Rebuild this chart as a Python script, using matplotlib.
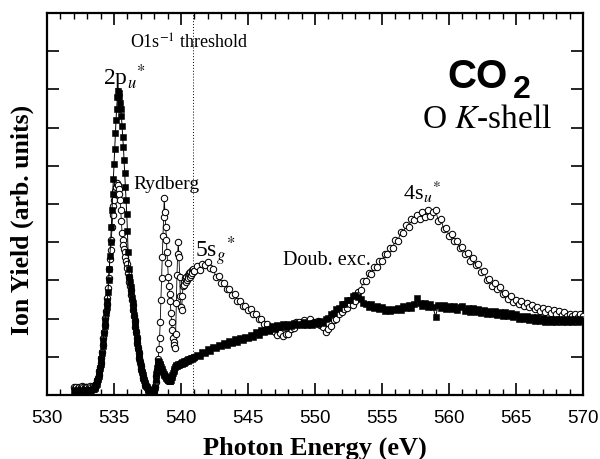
import numpy as np
import matplotlib
matplotlib.use("Agg")
import matplotlib.pyplot as plt
from matplotlib.ticker import MultipleLocator, NullFormatter

plt.rcParams["mathtext.fontset"] = "stix"
plt.rcParams["font.family"] = ["Liberation Serif", "DejaVu Serif"]

# Photon energy grid (eV): coarse baseline, fine steps across the resonances, coarser above threshold
energy = np.round(np.concatenate([
    np.arange(532.0, 533.45, 0.1),
    np.arange(533.5, 540.96, 0.05),
    np.arange(541.0, 570.01, 0.2),
]), 2)

# Ion yield, filled squares
yield_squares = [
    # 532.0 - 533.4
    0.10, 0.08, 0.12, 0.09, 0.11, 0.10, 0.13, 0.11, 0.12, 0.10, 0.13, 0.12, 0.14, 0.13, 0.15,
    # 533.5 - 540.95
    0.16, 0.18, 0.21, 0.25, 0.30, 0.36, 0.43, 0.51, 0.60, 0.70,
    0.82, 0.95, 1.10, 1.27, 1.45, 1.62, 1.80, 1.97, 2.15, 2.30,
    2.45, 2.70, 3.00, 3.30, 3.65, 4.00, 4.40, 4.85, 5.25, 5.65,
    6.05, 6.45, 6.85, 7.20, 7.50, 7.80, 7.95, 7.90, 7.80, 7.65,
    7.50, 7.30, 7.05, 6.75, 6.50, 6.15, 5.80, 5.45, 5.10, 4.75,
    4.30, 3.75, 3.30, 3.10, 2.95, 2.82, 2.70, 2.55, 2.40, 2.25,
    2.10, 1.95, 1.80, 1.65, 1.50, 1.37, 1.22, 1.10, 0.98, 0.87,
    0.77, 0.68, 0.60, 0.52, 0.45, 0.38, 0.32, 0.27, 0.23, 0.20,
    0.16, 0.13, 0.11, 0.09, 0.08, 0.07, 0.06, 0.05, 0.05, 0.06,
    0.10, 0.20, 0.38, 0.55, 0.70, 0.82, 0.88, 0.86, 0.80, 0.78,
    0.72, 0.68, 0.62, 0.60, 0.55, 0.52, 0.50, 0.46, 0.44, 0.42,
    0.40, 0.38, 0.37, 0.36, 0.36, 0.40, 0.46, 0.52, 0.58, 0.63,
    0.68, 0.72, 0.76, 0.78, 0.76, 0.79, 0.80, 0.78, 0.82, 0.80,
    0.84, 0.82, 0.86, 0.84, 0.85, 0.88, 0.86, 0.90, 0.88, 0.91,
    0.90, 0.93, 0.92, 0.95, 0.94, 0.96, 0.95, 0.98, 0.97, 1.00,
    # 541.0 - 570.0
    1.00, 1.06, 1.03, 1.13, 1.10, 1.20, 1.16, 1.26, 1.22, 1.32,
    1.28, 1.36, 1.31, 1.42, 1.36, 1.46, 1.40, 1.50, 1.45, 1.53,
    1.50, 1.58, 1.52, 1.64, 1.58, 1.70, 1.64, 1.72, 1.68, 1.80,
    1.74, 1.83, 1.77, 1.86, 1.79, 1.87, 1.80, 1.88, 1.82, 1.87,
    1.82, 1.90, 1.83, 1.89, 1.84, 1.92, 1.85, 1.93, 1.88, 1.98,
    2.01, 2.12, 2.14, 2.25, 2.27, 2.38, 2.38, 2.50, 2.49, 2.60,
    2.63, 2.56, 2.51, 2.40, 2.39, 2.31, 2.38, 2.28, 2.34, 2.24,
    2.31, 2.21, 2.26, 2.19, 2.25, 2.22, 2.29, 2.23, 2.32, 2.27,
    2.35, 2.29, 2.38, 2.53, 2.40, 2.32, 2.41, 2.31, 2.39, 2.30,
    2.05, 2.36, 2.28, 2.35, 2.25, 2.33, 2.24, 2.32, 2.22, 2.30,
    2.34, 2.21, 2.28, 2.18, 2.27, 2.16, 2.24, 2.14, 2.22, 2.13,
    2.20, 2.11, 2.21, 2.10, 2.17, 2.08, 2.18, 2.07, 2.14, 2.04,
    2.11, 2.00, 2.08, 1.98, 2.06, 1.97, 2.05, 1.95, 2.03, 1.94,
    2.01, 1.92, 2.00, 1.91, 1.99, 1.92, 2.00, 1.91, 1.99, 1.90,
    1.98, 1.91, 1.99, 1.90, 1.98, 1.94,
]

# Ion yield, open circles
yield_circles = [
    # 532.0 - 533.4
    0.20, 0.18, 0.22, 0.19, 0.21, 0.20, 0.23, 0.21, 0.22, 0.20, 0.22, 0.21, 0.23, 0.22, 0.24,
    # 533.5 - 540.95
    0.22, 0.24, 0.26, 0.29, 0.33, 0.38, 0.45, 0.53, 0.62, 0.72,
    0.84, 0.98, 1.12, 1.30, 1.48, 1.66, 1.84, 2.02, 2.20, 2.38,
    2.55, 2.80, 3.05, 3.30, 3.55, 3.80, 4.05, 4.40, 4.70, 4.95,
    5.10, 5.25, 5.35, 5.45, 5.52, 5.55, 5.50, 5.40, 5.25, 5.10,
    4.85, 4.55, 4.25, 4.05, 3.92, 3.82, 3.74, 3.62, 3.52, 3.42,
    3.32, 3.20, 3.08, 2.95, 2.85, 2.74, 2.62, 2.50, 2.36, 2.22,
    2.08, 1.93, 1.79, 1.64, 1.50, 1.36, 1.22, 1.09, 0.97, 0.86,
    0.76, 0.67, 0.59, 0.51, 0.44, 0.38, 0.32, 0.27, 0.23, 0.20,
    0.17, 0.14, 0.12, 0.10, 0.09, 0.08, 0.07, 0.07, 0.08, 0.10,
    0.12, 0.20, 0.35, 0.50, 0.65, 0.78, 0.95, 1.20, 1.50, 1.90,
    2.50, 3.05, 3.60, 4.15, 4.65, 5.15, 4.80, 4.40, 4.05, 3.75,
    3.45, 3.10, 2.85, 2.65, 2.45, 2.15, 1.90, 1.70, 1.50, 1.38,
    1.30, 1.22, 1.60, 2.40, 3.15, 3.70, 4.00, 3.60, 3.10, 2.60,
    2.30, 2.22, 2.60, 2.85, 2.95, 2.88, 3.05, 2.95, 3.10, 3.00,
    3.15, 3.05, 3.20, 3.10, 3.22, 3.15, 3.28, 3.20, 3.30, 3.24,
    # 541.0 - 570.0
    3.24, 3.38, 3.28, 3.44, 3.40, 3.47, 3.33, 3.30, 3.10, 3.12,
    2.94, 2.92, 2.78, 2.78, 2.62, 2.64, 2.46, 2.47, 2.32, 2.34,
    2.22, 2.24, 2.12, 2.13, 1.99, 2.00, 1.87, 1.86, 1.72, 1.69,
    1.64, 1.56, 1.62, 1.55, 1.60, 1.60, 1.72, 1.76, 1.90, 1.90,
    1.86, 1.96, 1.88, 1.98, 1.89, 1.90, 1.94, 1.82, 1.78, 1.65,
    1.72, 1.80, 1.96, 2.00, 2.12, 2.16, 2.26, 2.28, 2.38, 2.36,
    2.46, 2.70, 2.74, 2.98, 2.98, 3.20, 3.18, 3.36, 3.34, 3.52,
    3.52, 3.70, 3.68, 3.86, 3.86, 4.06, 4.04, 4.28, 4.24, 4.46,
    4.40, 4.62, 4.58, 4.72, 4.62, 4.80, 4.66, 4.84, 4.68, 4.78,
    4.84, 4.56, 4.62, 4.34, 4.38, 4.16, 4.22, 4.04, 4.04, 3.84,
    3.88, 3.70, 3.72, 3.52, 3.58, 3.40, 3.42, 3.22, 3.24, 3.00,
    3.04, 2.86, 2.94, 2.78, 2.84, 2.64, 2.68, 2.52, 2.58, 2.44,
    2.50, 2.38, 2.45, 2.34, 2.40, 2.30, 2.35, 2.25, 2.31, 2.21,
    2.28, 2.18, 2.25, 2.15, 2.22, 2.12, 2.19, 2.10, 2.16, 2.07,
    2.13, 2.06, 2.13, 2.05, 2.11, 2.06,
]

threshold = 540.87  # O1s ionisation threshold (eV)

fig = plt.figure(figsize=(6.0, 4.59), dpi=100)
ax = fig.add_axes([47 / 600, 1 - 395 / 459, 536 / 600, 382 / 459])

ax.plot(energy, yield_circles, "-", color="black", lw=0.6, marker="o", ms=4.6,
        mfc="white", mec="black", mew=0.75, zorder=3)
ax.plot(energy, yield_squares, "-", color="black", lw=0.7, marker="s", ms=3.8,
        mfc="black", mec="black", mew=0.4, zorder=4)

ax.axvline(threshold, color="black", lw=0.7, ls=(0, (1, 2)), zorder=2)

ax.set_xlim(530, 570)
ax.set_ylim(0, 10)
ax.xaxis.set_major_locator(MultipleLocator(5))
ax.xaxis.set_minor_locator(MultipleLocator(1))
ax.yaxis.set_major_locator(MultipleLocator(1))
ax.yaxis.set_major_formatter(NullFormatter())
ax.tick_params(which="both", direction="in", top=True, right=True)
ax.tick_params(which="major", length=8.5, width=1.2)
ax.tick_params(which="minor", length=4.5, width=1.0)
ax.tick_params(axis="x", pad=11)
for lab in ax.get_xticklabels():
    lab.set_fontfamily("Liberation Sans")
    lab.set_fontsize(13.5)
for sp in ax.spines.values():
    sp.set_linewidth(1.6)

# Annotations
ax.text(536.2, 9.21, r"O1s$^{-1}$ threshold", fontsize=13, ha="left", va="center")
ax.text(534.15, 8.12, r"2p$_{\mathit{u}}$$^{*}$", fontsize=17, ha="left", va="baseline")
ax.text(536.42, 5.52, "Rydberg", fontsize=14, ha="left", va="center")
ax.text(541.05, 3.59, r"5s$_{\mathit{g}}$$^{*}$", fontsize=17, ha="left", va="baseline")
ax.text(547.6, 3.40, "Doub. exc.", fontsize=14.5, ha="left", va="baseline")
ax.text(556.6, 5.10, r"4s$_{\mathit{u}}$$^{*}$", fontsize=16, ha="left", va="baseline")

ax.text(559.85, 8.04, "CO", fontsize=29, fontweight="bold", family="Liberation Sans",
        ha="left", va="baseline")
ax.text(564.75, 7.77, "2", fontsize=23, fontweight="bold", family="Liberation Sans",
        ha="left", va="baseline")
ax.text(558.0, 6.99, r"O $\mathit{K}$-shell", fontsize=24, ha="left", va="baseline")

fig.text(22 / 600, 1 - 220 / 459, "Ion Yield (arb. units)", rotation=90,
         fontsize=18.5, fontweight="bold", ha="center", va="center")
fig.text(315 / 600, 1 - 455 / 459, "Photon Energy (eV)", fontsize=19,
         fontweight="bold", ha="center", va="baseline")

fig.savefig("out.png", dpi=100)
